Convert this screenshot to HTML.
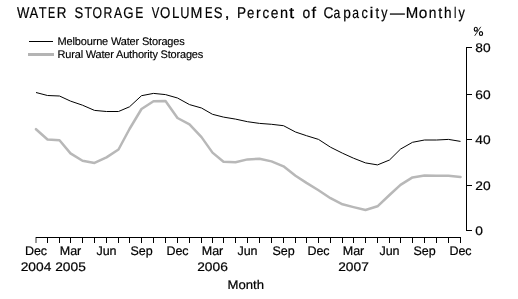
<!DOCTYPE html>
<html><head><meta charset="utf-8"><style>
html,body{margin:0;padding:0;background:#fff;}
body{width:518px;height:299px;overflow:hidden;}
svg{display:block;font-family:"Liberation Sans", sans-serif;text-rendering:geometricPrecision;will-change:transform;}
</style></head><body>
<svg width="518" height="299" viewBox="0 0 518 299">
<rect x="0" y="0" width="518" height="299" fill="#fff"/>
<g font-size="15.5" fill="#000" stroke="#000" stroke-width="0.2">
<text x="-7.32" y="18" transform="translate(23.15,0) scale(0.844,1)">W</text>
<text x="-5.17" y="18" transform="translate(33.85,0) scale(0.842,1)">A</text>
<text x="-4.73" y="18" transform="translate(42.75,0) scale(0.827,1)">T</text>
<text x="-5.47" y="18" transform="translate(51.85,0) scale(0.696,1)">E</text>
<text x="-5.87" y="18" transform="translate(61.80,0) scale(0.864,1)">R</text>
<text x="-5.17" y="18" transform="translate(78.80,0) scale(0.846,1)">S</text>
<text x="-4.73" y="18" transform="translate(88.30,0) scale(0.793,1)">T</text>
<text x="-6.02" y="18" transform="translate(97.20,0) scale(0.789,1)">O</text>
<text x="-5.87" y="18" transform="translate(108.15,0) scale(0.788,1)">R</text>
<text x="-5.17" y="18" transform="translate(118.15,0) scale(0.783,1)">A</text>
<text x="-5.84" y="18" transform="translate(128.35,0) scale(0.855,1)">G</text>
<text x="-5.47" y="18" transform="translate(139.40,0) scale(0.780,1)">E</text>
<text x="-5.17" y="18" transform="translate(155.55,0) scale(0.730,1)">V</text>
<text x="-6.02" y="18" transform="translate(165.15,0) scale(0.855,1)">O</text>
<text x="-4.69" y="18" transform="translate(176.05,0) scale(0.856,1)">L</text>
<text x="-5.60" y="18" transform="translate(184.95,0) scale(0.824,1)">U</text>
<text x="-6.46" y="18" transform="translate(196.50,0) scale(0.921,1)">M</text>
<text x="-5.47" y="18" transform="translate(208.90,0) scale(0.732,1)">E</text>
<text x="-5.17" y="18" transform="translate(218.20,0) scale(0.846,1)">S</text>
<text x="-2.15" y="18" transform="translate(227.15,0) scale(1.200,1)">,</text>
<text x="-5.40" y="18" transform="translate(241.85,0) scale(0.879,1)">P</text>
<text x="-4.30" y="18" transform="translate(250.60,0) scale(0.846,1)">e</text>
<text x="-2.97" y="18" transform="translate(258.60,0) scale(0.916,1)">r</text>
<text x="-4.00" y="18" transform="translate(265.90,0) scale(0.860,1)">c</text>
<text x="-4.30" y="18" transform="translate(274.55,0) scale(0.887,1)">e</text>
<text x="-4.32" y="18" transform="translate(284.00,0) scale(0.934,1)">n</text>
<text x="-2.21" y="18" transform="translate(291.60,0) scale(1.200,1)">t</text>
<text x="-4.31" y="18" transform="translate(306.40,0) scale(0.895,1)">o</text>
<text x="-2.27" y="18" transform="translate(313.90,0) scale(1.058,1)">f</text>
<text x="-5.70" y="18" transform="translate(328.50,0) scale(0.891,1)">C</text>
<text x="-4.64" y="18" transform="translate(337.15,0) scale(0.785,1)">a</text>
<text x="-4.48" y="18" transform="translate(347.30,0) scale(0.882,1)">p</text>
<text x="-4.64" y="18" transform="translate(355.85,0) scale(0.785,1)">a</text>
<text x="-4.00" y="18" transform="translate(364.75,0) scale(0.816,1)">c</text>
<text x="-1.72" y="18" transform="translate(371.40,0) scale(1.138,1)">i</text>
<text x="-2.21" y="18" transform="translate(377.30,0) scale(0.846,1)">t</text>
<text x="-3.88" y="18" transform="translate(384.30,0) scale(0.801,1)">y</text>
<text x="-7.75" y="18" transform="translate(397.50,0) scale(0.952,1)">—</text>
<text x="-6.46" y="18" transform="translate(411.95,0) scale(0.969,1)">M</text>
<text x="-4.31" y="18" transform="translate(423.05,0) scale(0.991,1)">o</text>
<text x="-4.32" y="18" transform="translate(432.65,0) scale(0.888,1)">n</text>
<text x="-2.21" y="18" transform="translate(440.25,0) scale(0.922,1)">t</text>
<text x="-4.34" y="18" transform="translate(447.90,0) scale(0.879,1)">h</text>
<text x="-1.73" y="18" transform="translate(455.30,0) scale(0.697,1)">l</text>
<text x="-3.88" y="18" transform="translate(461.65,0) scale(0.814,1)">y</text>
</g>
<rect x="29" y="41" width="24" height="1" fill="#000"/>
<rect x="28" y="53" width="26" height="3" fill="#b4b4b4"/>
<g font-size="11" fill="#000" stroke="#000" stroke-width="0.15">
<text x="57.6" y="45" letter-spacing="-0.17">Melbourne Water Storages</text>
<text x="57.6" y="58" letter-spacing="-0.19">Rural Water Authority Storages</text>
</g>
<g fill="#000" shape-rendering="crispEdges">
<rect x="466" y="47" width="1" height="184"/>
<rect x="35" y="237" width="2" height="6" fill="#9a9a9a"/>
<rect x="36" y="237" width="425" height="1"/>
<rect x="47" y="237" width="1" height="6"/><rect x="59" y="237" width="1" height="6"/><rect x="70" y="237" width="1" height="6"/><rect x="82" y="237" width="1" height="6"/><rect x="94" y="237" width="1" height="6"/><rect x="106" y="237" width="1" height="6"/><rect x="118" y="237" width="1" height="6"/><rect x="129" y="237" width="1" height="6"/><rect x="141" y="237" width="1" height="6"/><rect x="153" y="237" width="1" height="6"/><rect x="165" y="237" width="1" height="6"/><rect x="177" y="237" width="1" height="6"/><rect x="189" y="237" width="1" height="6"/><rect x="201" y="237" width="1" height="6"/><rect x="212" y="237" width="1" height="6"/><rect x="223" y="237" width="1" height="6"/><rect x="235" y="237" width="1" height="6"/><rect x="247" y="237" width="1" height="6"/><rect x="259" y="237" width="1" height="6"/><rect x="271" y="237" width="1" height="6"/><rect x="283" y="237" width="1" height="6"/><rect x="295" y="237" width="1" height="6"/><rect x="306" y="237" width="1" height="6"/><rect x="318" y="237" width="1" height="6"/><rect x="330" y="237" width="1" height="6"/><rect x="342" y="237" width="1" height="6"/><rect x="353" y="237" width="1" height="6"/><rect x="365" y="237" width="1" height="6"/><rect x="377" y="237" width="1" height="6"/><rect x="389" y="237" width="1" height="6"/><rect x="400" y="237" width="1" height="6"/><rect x="412" y="237" width="1" height="6"/><rect x="424" y="237" width="1" height="6"/><rect x="436" y="237" width="1" height="6"/><rect x="448" y="237" width="1" height="6"/><rect x="460" y="237" width="1" height="6"/>
<rect x="466" y="47" width="6" height="1"/><text shape-rendering="auto" x="0" y="52" font-size="12.5" stroke="#000" stroke-width="0.2" transform="translate(475.3,0) scale(1.1,1)">80</text><rect x="466" y="94" width="6" height="1"/><text shape-rendering="auto" x="0" y="99" font-size="12.5" stroke="#000" stroke-width="0.2" transform="translate(475.3,0) scale(1.1,1)">60</text><rect x="466" y="139" width="6" height="1"/><text shape-rendering="auto" x="0" y="144" font-size="12.5" stroke="#000" stroke-width="0.2" transform="translate(475.3,0) scale(1.1,1)">40</text><rect x="466" y="185" width="6" height="1"/><text shape-rendering="auto" x="0" y="190" font-size="12.5" stroke="#000" stroke-width="0.2" transform="translate(475.3,0) scale(1.1,1)">20</text><rect x="466" y="230" width="6" height="1"/><text shape-rendering="auto" x="0" y="235" font-size="12.5" stroke="#000" stroke-width="0.2" transform="translate(475.3,0) scale(1.1,1)">0</text>
</g>
<g font-size="12.5" fill="#000" stroke="#000" stroke-width="0.2">
<g fill="none" stroke="#000" stroke-width="1.15"><ellipse cx="475.8" cy="29.2" rx="1.55" ry="1.95"/><ellipse cx="481.0" cy="33.5" rx="1.6" ry="1.95"/><path d="M474.7 35.8 L480.8 26.8" stroke-width="0.85"/></g>
<text x="36.0" y="255" text-anchor="middle">Dec</text><text x="70.5" y="255" text-anchor="middle">Mar</text><text x="106.5" y="255" text-anchor="middle">Jun</text><text x="141.5" y="255" text-anchor="middle">Sep</text><text x="177.5" y="255" text-anchor="middle">Dec</text><text x="212.5" y="255" text-anchor="middle">Mar</text><text x="247.5" y="255" text-anchor="middle">Jun</text><text x="283.5" y="255" text-anchor="middle">Sep</text><text x="318.5" y="255" text-anchor="middle">Dec</text><text x="353.5" y="255" text-anchor="middle">Mar</text><text x="389.5" y="255" text-anchor="middle">Jun</text><text x="424.5" y="255" text-anchor="middle">Sep</text><text x="460.5" y="255" text-anchor="middle">Dec</text><text x="0" y="271" text-anchor="middle" transform="translate(36.0,0) scale(1.1,1)">2004</text><text x="0" y="271" text-anchor="middle" transform="translate(70.5,0) scale(1.1,1)">2005</text><text x="0" y="271" text-anchor="middle" transform="translate(212.5,0) scale(1.1,1)">2006</text><text x="0" y="271" text-anchor="middle" transform="translate(353.5,0) scale(1.1,1)">2007</text>
<text x="0" y="289" text-anchor="middle" transform="translate(245.8,0) scale(1.05,1)">Month</text>
</g>
<polyline points="36.0,129.2 47.5,139.5 59.5,140.3 70.5,153.4 82.5,160.8 94.5,162.9 106.5,157.4 118.5,149.5 129.5,129.0 141.5,109.0 153.5,101.2 165.5,101.0 177.5,118.0 189.5,124.3 201.5,137.1 212.5,152.6 223.5,161.7 235.5,162.2 247.5,159.4 259.5,158.7 271.5,161.4 283.5,166.3 295.5,175.7 306.5,182.9 318.5,190.3 330.5,198.2 342.5,204.3 353.5,207.1 365.5,210.0 377.5,206.3 389.5,195.0 400.5,184.9 412.5,177.4 424.5,175.5 436.5,175.7 448.5,175.7 460.5,177.0" fill="none" stroke="#b8b8b8" stroke-width="2.5" stroke-linejoin="round" stroke-linecap="round"/>
<polyline points="36.0,92.5 47.5,95.5 59.5,96.0 70.5,101.1 82.5,105.2 94.5,110.4 106.5,111.5 118.5,111.5 129.5,106.8 141.5,95.7 153.5,93.4 165.5,94.6 177.5,98.0 189.5,104.6 201.5,108.0 212.5,114.3 223.5,117.1 235.5,119.1 247.5,121.7 259.5,123.4 271.5,124.3 283.5,125.7 295.5,132.0 306.5,135.7 318.5,139.4 330.5,147.2 342.5,153.2 353.5,158.2 365.5,162.9 377.5,164.9 389.5,160.0 400.5,149.1 412.5,142.3 424.5,140.0 436.5,140.0 448.5,139.4 460.5,141.4" fill="none" stroke="#000" stroke-width="1" stroke-linejoin="round"/>
</svg>
</body></html>
